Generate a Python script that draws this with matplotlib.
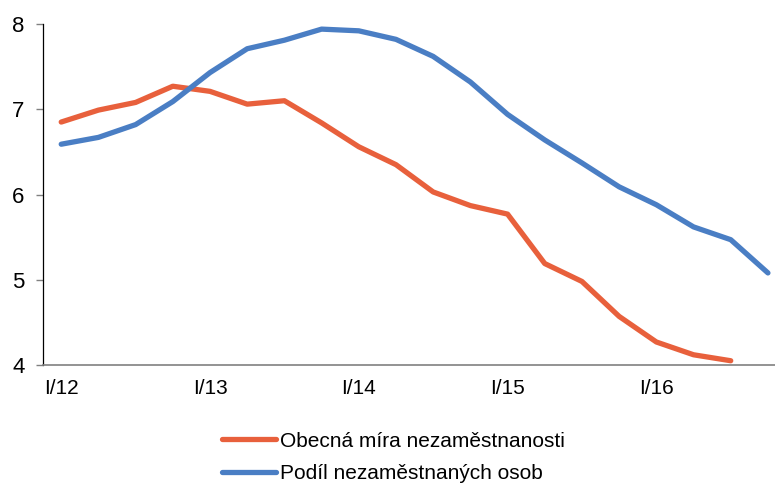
import numpy as np
import matplotlib.pyplot as plt

plt.rcParams['font.family'] = ['Liberation Sans', 'DejaVu Sans']

# quarterly data, I/12 .. IV/16
quarters = ['I/12', 'II/12', 'III/12', 'IV/12',
            'I/13', 'II/13', 'III/13', 'IV/13',
            'I/14', 'II/14', 'III/14', 'IV/14',
            'I/15', 'II/15', 'III/15', 'IV/15',
            'I/16', 'II/16', 'III/16', 'IV/16']
obecna = [6.85, 6.99, 7.08, 7.27, 7.21, 7.06, 7.10, 6.84, 6.56, 6.35,
          6.03, 5.87, 5.77, 5.19, 4.98, 4.57, 4.27, 4.12, 4.05]
podil = [6.59, 6.67, 6.82, 7.09, 7.43, 7.71, 7.81, 7.94, 7.92, 7.82,
         7.62, 7.32, 6.94, 6.64, 6.37, 6.09, 5.88, 5.62, 5.47, 5.08]
labels = ['Obecná míra nezaměstnanosti', 'Podíl nezaměstnaných osob']

fig = plt.figure(figsize=(7.75, 4.83), dpi=100)
ax = fig.add_axes([0.055, 0.2443, 0.945, 0.706])

x = np.arange(len(quarters))
ax.plot(x[:len(obecna)], obecna, color='#E8603C', lw=3.8, label=labels[0],
        solid_capstyle='round')
ax.plot(x[:len(podil)], podil, color='#4A7EC4', lw=3.8, label=labels[1],
        solid_capstyle='round')

ax.set_xlim(-0.5, 19.19)
ax.set_ylim(4, 8)
ax.set_yticks([4, 5, 6, 7, 8])
ax.set_xticks(x[::4])
ax.set_xticklabels(quarters[::4])

for s in ['top', 'right']:
    ax.spines[s].set_visible(False)
ax.spines['left'].set_color('black')
ax.spines['left'].set_linewidth(0.9)
ax.spines['bottom'].set_color('#808080')
ax.spines['bottom'].set_linewidth(1.2)

ax.tick_params(axis='y', length=5, width=1, color='#808080', pad=8,
               labelsize=16)
ax.tick_params(axis='x', length=0, pad=10, labelsize=15)

fig.legend(loc='center left', bbox_to_anchor=(0.2865, 0.053), frameon=False,
           fontsize=15, handlelength=2.6, handletextpad=0.2,
           labelspacing=0.65, borderpad=0, borderaxespad=0)

fig.savefig('out.png', dpi=100)
